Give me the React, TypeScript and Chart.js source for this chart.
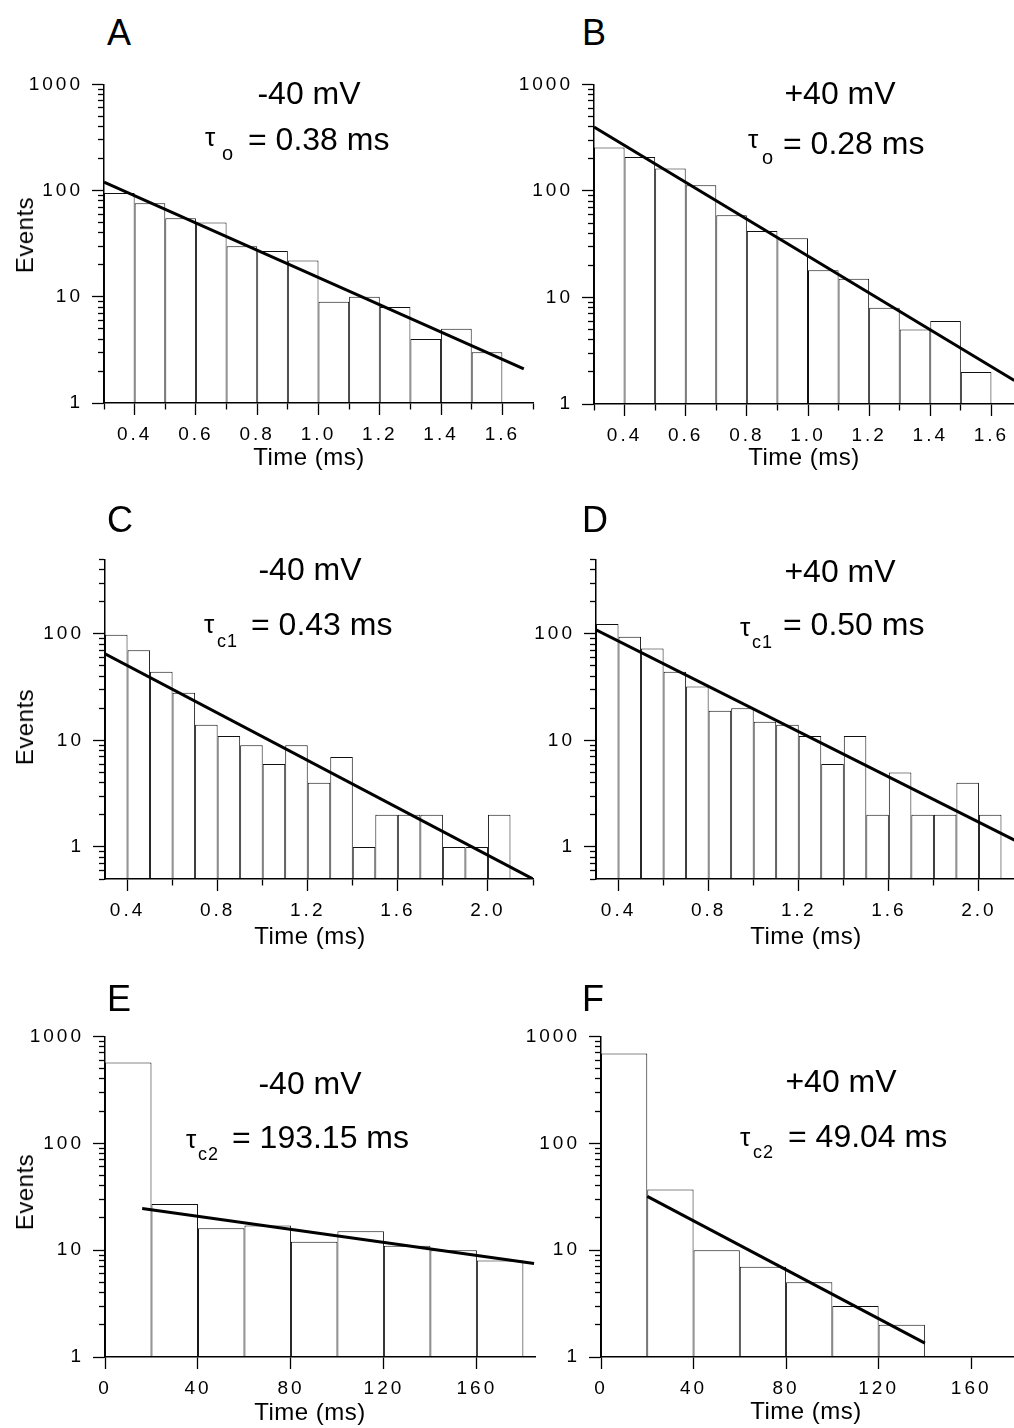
import React, { useEffect, useRef } from 'react';
import { Chart, registerables } from 'chart.js';

Chart.register(...registerables);

const FONT = '"Liberation Sans", Arial, Helvetica, sans-serif';

// ---------------- data ----------------
// A: open times, -40 mV
const timeA = [0.35, 0.45, 0.55, 0.65, 0.75, 0.85, 0.95, 1.05, 1.15, 1.25, 1.35, 1.45, 1.55];
const eventsA = [95, 76, 55, 50, 30, 27, 22, 9, 10, 8, 4, 5, 3];
const fitTimeA = [0.3, 1.67];
const fitEventsA = [120, 2.1];
// B: open times, +40 mV
const timeB = [0.35, 0.45, 0.55, 0.65, 0.75, 0.85, 0.95, 1.05, 1.15, 1.25, 1.35, 1.45, 1.55];
const eventsB = [255, 208, 162, 113, 59, 42, 36, 18, 15, 8, 5, 6, 2];
const fitTimeB = [0.3, 1.675];
const fitEventsB = [398, 1.66];
// C: short closed times, -40 mV
const timeC = [0.35, 0.45, 0.55, 0.65, 0.75, 0.85, 0.95, 1.05, 1.15, 1.25, 1.35, 1.45, 1.55, 1.65, 1.75, 1.85, 1.95, 2.05];
const eventsC = [98, 70, 44, 28, 14, 11, 9, 6, 9, 4, 7, 1, 2, 2, 2, 1, 1, 2];
const fitTimeC = [0.3, 2.2];
const fitEventsC = [65, 0.5];
// D: short closed times, +40 mV
const timeD = [0.35, 0.45, 0.55, 0.65, 0.75, 0.85, 0.95, 1.05, 1.15, 1.25, 1.35, 1.45, 1.55, 1.65, 1.75, 1.85, 1.95, 2.05];
const eventsD = [124, 94, 73, 44, 32, 19, 20, 15, 14, 11, 6, 11, 2, 5, 2, 2, 4, 2];
const fitTimeD = [0.3, 2.16];
const fitEventsD = [109, 1.15];
// E: long closed times, -40 mV
const timeE = [10, 30, 50, 70, 90, 110, 130, 150, 170];
const eventsE = [570, 27, 16, 17, 12, 15, 11, 10, 8];
const fitTimeE = [16, 184.6];
const fitEventsE = [24.5, 7.5];
// F: long closed times, +40 mV
const timeF = [10, 30, 50, 70, 90, 110, 130];
const eventsF = [690, 37, 10, 7, 5, 3, 2];
const fitTimeF = [20, 140];
const fitEventsF = [31.8, 1.35];

// ---------------- ticks ----------------
const xTicksAB = [0.3, 0.4, 0.5, 0.6, 0.7, 0.8, 0.9, 1.0, 1.1, 1.2, 1.3, 1.4, 1.5, 1.6, 1.7];
const xLabelsAB = ['0.4', '0.6', '0.8', '1.0', '1.2', '1.4', '1.6'];
const xTicksCD = [0.4, 0.6, 0.8, 1.0, 1.2, 1.4, 1.6, 1.8, 2.0, 2.2];
const xLabelsCD = ['0.4', '0.8', '1.2', '1.6', '2.0'];
const xTicksEF = [0, 40, 80, 120, 160];
const xLabelsEF = ['0', '40', '80', '120', '160'];
const yTicks1000 = [1, 2, 3, 4, 5, 6, 7, 8, 9, 10, 20, 30, 40, 50, 60, 70, 80, 90, 100, 200, 300, 400, 500, 600, 700, 800, 900, 1000];
const yLabels1000 = ['1', '10', '100', '1000'];
const yTicks500 = [0.5, 0.6, 0.7, 0.8, 0.9, 1, 2, 3, 4, 5, 6, 7, 8, 9, 10, 20, 30, 40, 50, 60, 70, 80, 90, 100, 200, 300, 400, 500];
const yLabels500 = ['1', '10', '100'];

// ---------------- layout ----------------
type Area = { L: number; T: number; R: number; B: number };
type Spec = {
  time: number[]; events: number[]; fitTime: number[]; fitEvents: number[];
  xMin: number; xMax: number; xTicks: number[]; xLabels: string[];
  yMin: number; yMax: number; yTicks: number[]; yLabels: string[];
  area: Area;
};

const panels: Spec[] = [
  { time: timeA, events: eventsA, fitTime: fitTimeA, fitEvents: fitEventsA, xMin: 0.3, xMax: 1.7, xTicks: xTicksAB, xLabels: xLabelsAB, yMin: 1, yMax: 1000, yTicks: yTicks1000, yLabels: yLabels1000, area: { L: 104, T: 84, R: 533, B: 403 } },
  { time: timeB, events: eventsB, fitTime: fitTimeB, fitEvents: fitEventsB, xMin: 0.3, xMax: 1.7, xTicks: xTicksAB, xLabels: xLabelsAB, yMin: 1, yMax: 1000, yTicks: yTicks1000, yLabels: yLabels1000, area: { L: 594, T: 84, R: 1022, B: 404 } },
  { time: timeC, events: eventsC, fitTime: fitTimeC, fitEvents: fitEventsC, xMin: 0.3, xMax: 2.2, xTicks: xTicksCD, xLabels: xLabelsCD, yMin: 0.5, yMax: 500, yTicks: yTicks500, yLabels: yLabels500, area: { L: 105, T: 559, R: 533, B: 879 } },
  { time: timeD, events: eventsD, fitTime: fitTimeD, fitEvents: fitEventsD, xMin: 0.3, xMax: 2.2, xTicks: xTicksCD, xLabels: xLabelsCD, yMin: 0.5, yMax: 500, yTicks: yTicks500, yLabels: yLabels500, area: { L: 596, T: 559, R: 1024, B: 879 } },
  { time: timeE, events: eventsE, fitTime: fitTimeE, fitEvents: fitEventsE, xMin: 0, xMax: 185, xTicks: xTicksEF, xLabels: xLabelsEF, yMin: 1, yMax: 1000, yTicks: yTicks1000, yLabels: yLabels1000, area: { L: 105, T: 1036, R: 535, B: 1357 } },
  { time: timeF, events: eventsF, fitTime: fitTimeF, fitEvents: fitEventsF, xMin: 0, xMax: 185, xTicks: xTicksEF, xLabels: xLabelsEF, yMin: 1, yMax: 1000, yTicks: yTicks1000, yLabels: yLabels1000, area: { L: 601, T: 1036, R: 1029, B: 1357 } },
];

const YW = 100; // y-axis box width
const XH = 60;  // x-axis box height
const PT = 20;
const PR = 20;

const labelOf = (v: number, labels: string[]) => {
  const l = labels.find((s) => Math.abs(parseFloat(s) - v) < 1e-6);
  return l === undefined ? '' : l;
};

const spacingPlugin = {
  id: 'tickSpacing',
  beforeDraw(chart: any) { chart.ctx.letterSpacing = '3px'; },
  afterDraw(chart: any) { chart.ctx.letterSpacing = '0px'; },
};

function Panel({ spec }: { spec: Spec }) {
  const ref = useRef<HTMLCanvasElement | null>(null);
  const { L, T, R, B } = spec.area;
  const w = YW + (R - L) + PR;
  const h = PT + (B - T) + XH;
  useEffect(() => {
    const bars = spec.time.map((t, i) => ({ x: t, y: spec.events[i] }));
    const fit = spec.fitTime.map((t, i) => ({ x: t, y: spec.fitEvents[i] }));
    const tickFont = { family: FONT, size: 19 };
    const chart = new Chart(ref.current as HTMLCanvasElement, {
      type: 'bar',
      data: {
        datasets: [
          { type: 'line', data: fit, borderColor: '#000', borderWidth: 3, pointRadius: 0, tension: 0, order: 0 } as any,
          { type: 'bar', data: bars, backgroundColor: '#fff', borderColor: '#111', borderWidth: 1, borderSkipped: 'bottom', barPercentage: 1, categoryPercentage: 1, inflateAmount: 0, order: 1 } as any,
        ],
      },
      options: {
        responsive: false,
        animation: false,
        devicePixelRatio: 1,
        layout: { padding: { left: 0, top: PT, right: PR, bottom: 0 }, autoPadding: false } as any,
        plugins: { legend: { display: false }, tooltip: { enabled: false }, title: { display: false } },
        scales: {
          x: {
            type: 'linear', min: spec.xMin, max: spec.xMax, offset: false, position: 'bottom',
            afterFit: (s: any) => { s.height = XH; },
            afterBuildTicks: (s: any) => { s.ticks = spec.xTicks.map((v) => ({ value: v })); },
            ticks: { autoSkip: false, maxRotation: 0, minRotation: 0, padding: 8, color: '#000', font: tickFont, callback: (v: any) => labelOf(Number(v), spec.xLabels) },
            grid: {
              display: true, drawOnChartArea: false, drawTicks: true, offset: false, tickLength: 12, tickWidth: 1.3, tickColor: '#000',
              tickBorderDash: (c: any) => (c.tick && labelOf(c.tick.value, spec.xLabels) !== '' ? [] : [6, 100]),
              tickBorderDashOffset: 0,
            },
            border: { display: true, color: '#000', width: 1.5, z: 1 },
          } as any,
          y: {
            type: 'logarithmic', min: spec.yMin, max: spec.yMax, position: 'left',
            afterFit: (s: any) => { s.width = YW; },
            afterBuildTicks: (s: any) => { s.ticks = spec.yTicks.map((v) => ({ value: v })); },
            ticks: { autoSkip: false, padding: 9, color: '#000', font: tickFont, callback: (v: any) => labelOf(Number(v), spec.yLabels) },
            grid: {
              display: true, drawOnChartArea: false, drawTicks: true, tickLength: 12, tickWidth: 1.3, tickColor: '#000',
              tickBorderDash: (c: any) => (c.tick && labelOf(c.tick.value, spec.yLabels) !== '' ? [] : [6, 100]),
              tickBorderDashOffset: (c: any) => (c.tick && labelOf(c.tick.value, spec.yLabels) !== '' ? 0 : 100),
            },
            border: { display: true, color: '#000', width: 1.5, z: 1 },
          } as any,
        },
      },
      plugins: [spacingPlugin],
    });
    return () => chart.destroy();
  }, []);
  return (
    <canvas
      ref={ref}
      width={w}
      height={h}
      style={{ position: 'absolute', left: L - YW, top: T - PT, width: w, height: h, display: 'block' }}
    />
  );
}

// ---------------- text ----------------
type TxtProps = { x: number; base: number; size: number; text: string; center?: boolean; spacing?: number };
function Txt({ x, base, size, text, center, spacing }: TxtProps) {
  return (
    <div
      style={{
        position: 'absolute', left: x, top: base - 0.8465 * size, fontSize: size, lineHeight: `${size}px`,
        fontFamily: FONT, whiteSpace: 'nowrap', color: '#000', letterSpacing: spacing ? `${spacing}px` : undefined,
        transform: center ? 'translateX(-50%)' : undefined,
      }}
    >
      {text}
    </div>
  );
}

const letters = [
  { t: 'A', x: 107, base: 45 }, { t: 'B', x: 582, base: 45 },
  { t: 'C', x: 107, base: 532 }, { t: 'D', x: 582, base: 532 },
  { t: 'E', x: 107, base: 1011 }, { t: 'F', x: 582, base: 1011 },
];
const voltages = [
  { t: '-40 mV', x: 309, base: 104 }, { t: '+40 mV', x: 840, base: 104 },
  { t: '-40 mV', x: 310, base: 580 }, { t: '+40 mV', x: 840, base: 582 },
  { t: '-40 mV', x: 310, base: 1094 }, { t: '+40 mV', x: 841, base: 1092 },
];
const taus = [
  { tx: 205, tb: 146, sub: 'o', sx: 222, sb: 160, ss: 20, rest: '= 0.38 ms', rx: 248, rb: 150 },
  { tx: 748, tb: 148, sub: 'o', sx: 762, sb: 164, ss: 20, rest: '= 0.28 ms', rx: 783, rb: 154 },
  { tx: 204, tb: 633, sub: 'c1', sx: 217, sb: 647, ss: 18, rest: '= 0.43 ms', rx: 251, rb: 635 },
  { tx: 740, tb: 636, sub: 'c1', sx: 752, sb: 648, ss: 18, rest: '= 0.50 ms', rx: 783, rb: 635 },
  { tx: 186, tb: 1148, sub: 'c2', sx: 198, sb: 1160, ss: 18, rest: '= 193.15 ms', rx: 232, rb: 1148 },
  { tx: 740, tb: 1146, sub: 'c2', sx: 753, sb: 1158, ss: 18, rest: '= 49.04 ms', rx: 788, rb: 1147 },
];
const timeTitles = [
  { x: 309, base: 465 }, { x: 804, base: 465 },
  { x: 310, base: 944 }, { x: 806, base: 944 },
  { x: 310, base: 1420 }, { x: 806, base: 1419 },
];
const eventsTitles = [{ y: 235 }, { y: 727 }, { y: 1192 }];

export default function App() {
  return (
    <div style={{ position: 'absolute', left: 0, top: 0, width: 1014, height: 1428, overflow: 'hidden', background: '#fff' }}>
      {panels.map((p, i) => <Panel key={i} spec={p} />)}
      {letters.map((l, i) => <Txt key={'l' + i} x={l.x} base={l.base} size={36} text={l.t} />)}
      {voltages.map((v, i) => <Txt key={'v' + i} x={v.x} base={v.base} size={32} text={v.t} center />)}
      {taus.map((t, i) => (
        <React.Fragment key={'t' + i}>
          <Txt x={t.tx} base={t.tb} size={26} text="τ" />
          <Txt x={t.sx} base={t.sb} size={t.ss} text={t.sub} spacing={1} />
          <Txt x={t.rx} base={t.rb} size={32} text={t.rest} />
        </React.Fragment>
      ))}
      {timeTitles.map((t, i) => <Txt key={'x' + i} x={t.x} base={t.base} size={24} text="Time (ms)" center spacing={0.5} />)}
      {eventsTitles.map((e, i) => (
        <div
          key={'e' + i}
          style={{
            position: 'absolute', left: 25, top: e.y, fontSize: 24, lineHeight: '24px', fontFamily: FONT,
            whiteSpace: 'nowrap', letterSpacing: '0.5px', transform: 'translate(-50%, -50%) rotate(-90deg)',
          }}
        >
          Events
        </div>
      ))}
    </div>
  );
}
